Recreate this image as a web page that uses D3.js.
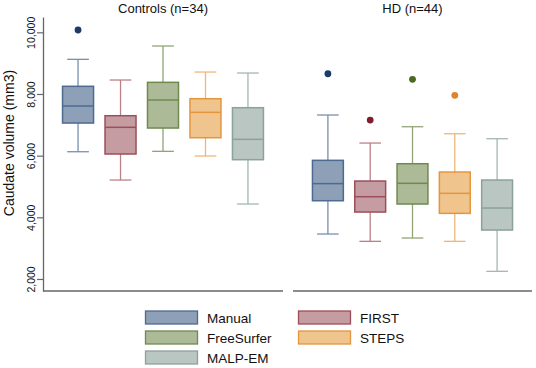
<!DOCTYPE html>
<html lang="en">
<head>
    <meta charset="UTF-8">
    <title>Caudate volume</title>
    <script src="https://cdn.jsdelivr.net/npm/d3@7/dist/d3.min.js"></script>
    <style>
        body { margin: 0; background: #fff; }
        text { font-family: "Liberation Sans", Arial, Helvetica, sans-serif; fill: #111; }
    </style>
</head>
<body>
    <div class="box-container"></div>
</body>
<script>
    const methods = ['Manual', 'FIRST', 'FreeSurfer', 'STEPS', 'MALP-EM']
    const groups = ['Controls (n=34)', 'HD (n=44)']
    const yTicks = [2000, 4000, 6000, 8000, 10000]

    // controls
    const ctrlLow = [6127, 5209, 6140, 5988, 4431]
    const ctrlQ1 = [7058, 6053, 6896, 6581, 5868]
    const ctrlMed = [7610, 6919, 7804, 7405, 6529]
    const ctrlQ3 = [8249, 7295, 8378, 7846, 7555]
    const ctrlHigh = [9124, 8453, 9556, 8712, 8680]
    const ctrlOut = [[10075], [], [], [], []]

    // HD
    const hdLow = [3458, 3221, 3328, 3221, 2248]
    const hdQ1 = [4538, 4171, 4431, 4128, 3587]
    const hdMed = [5093, 4668, 5102, 4778, 4301]
    const hdQ3 = [5848, 5177, 5738, 5469, 5209]
    const hdHigh = [7318, 6409, 6938, 6711, 6549]
    const hdOut = [[8657], [7155], [8476], [7957], []]

    const fills = ['#8ea0b7', '#c59ca1', '#adba98', '#efc48d', '#b9c6c1']
    const strokes = ['#4d6a8f', '#9c4f5a', '#6f8a4f', '#e4963f', '#8ca19a']
    const whiskerColors = ['#7a90ac', '#bd8088', '#91a476', '#f0b679', '#a5b7b1']
    const dotColors = ['#1c3b68', '#7f1f2c', '#4a6a22', '#e0842c', '#7d948d']

    const width = 536
    const height = 368

    const svg = d3.select('.box-container')
        .append('svg')
        .attr('width', width)
        .attr('height', height)

    const y = d3.scaleLinear().domain([1610, 10497]).range([291, 17])

    const panels = [
        { title: groups[0], x0: 43, x1: 283, low: ctrlLow, q1: ctrlQ1, med: ctrlMed, q3: ctrlQ3, high: ctrlHigh, out: ctrlOut },
        { title: groups[1], x0: 293, x1: 532, low: hdLow, q1: hdQ1, med: hdMed, q3: hdQ3, high: hdHigh, out: hdOut }
    ]

    // y axis
    const yAxis = svg.append('g')
        .attr('transform', 'translate(43,0)')
        .call(d3.axisLeft(y).tickValues(yTicks).tickFormat(d3.format(',')).tickSize(6).tickSizeOuter(0))
    yAxis.select('.domain').attr('stroke', '#666').attr('stroke-width', 1.3)
    yAxis.selectAll('.tick line').attr('stroke', '#666').attr('stroke-width', 1.2)
    yAxis.selectAll('.tick text')
        .attr('transform', 'rotate(-90)')
        .attr('x', 0)
        .attr('y', -8)
        .attr('dy', 0)
        .attr('text-anchor', 'middle')
        .style('font-size', '10.5px')
        .style('font-family', '"Liberation Sans", Arial, sans-serif')
        .attr('fill', '#222')

    svg.append('text')
        .attr('transform', 'translate(14,143) rotate(-90)')
        .attr('text-anchor', 'middle')
        .style('font-size', '14px')
        .text('Caudate volume (mm3)')

    panels.forEach(p => {
        const x = d3.scaleBand().domain(methods).range([p.x0, p.x1])
            .paddingInner(0.27).paddingOuter(0.46)
        const bw = x.bandwidth()
        const g = svg.append('g')

        g.append('line')
            .attr('x1', p.x0).attr('x2', p.x1)
            .attr('y1', 291).attr('y2', 291)
            .attr('stroke', '#666').attr('stroke-width', 1.5)

        g.append('text')
            .attr('x', (p.x0 + p.x1) / 2)
            .attr('y', 13)
            .attr('text-anchor', 'middle')
            .style('font-size', '13px')
            .text(p.title)

        methods.forEach((m, i) => {
            const cx = x(m) + bw / 2
            // whiskers
            g.append('line')
                .attr('x1', cx).attr('x2', cx)
                .attr('y1', y(p.high[i])).attr('y2', y(p.q3[i]))
                .attr('stroke', whiskerColors[i]).attr('stroke-width', 1.3)
            g.append('line')
                .attr('x1', cx).attr('x2', cx)
                .attr('y1', y(p.q1[i])).attr('y2', y(p.low[i]))
                .attr('stroke', whiskerColors[i]).attr('stroke-width', 1.3)
            ;[p.high[i], p.low[i]].forEach(v => {
                g.append('line')
                    .attr('x1', cx - bw * 0.35).attr('x2', cx + bw * 0.35)
                    .attr('y1', y(v)).attr('y2', y(v))
                    .attr('stroke', whiskerColors[i]).attr('stroke-width', 1.3)
            })
            // box
            g.append('rect')
                .attr('x', x(m))
                .attr('y', y(p.q3[i]))
                .attr('width', bw)
                .attr('height', y(p.q1[i]) - y(p.q3[i]))
                .attr('fill', fills[i])
                .attr('stroke', strokes[i])
                .attr('stroke-width', 1.5)
            g.append('line')
                .attr('x1', x(m)).attr('x2', x(m) + bw)
                .attr('y1', y(p.med[i])).attr('y2', y(p.med[i]))
                .attr('stroke', strokes[i]).attr('stroke-width', 1.5)
            // outliers
            g.selectAll(null)
                .data(p.out[i])
                .enter()
                .append('circle')
                .attr('cx', cx)
                .attr('cy', d => y(d))
                .attr('r', 3.4)
                .attr('fill', dotColors[i])
        })
    })

    // legend
    const legendPos = [[145, 311], [298, 311], [145, 331], [298, 331], [145, 351]]
    const legendOrder = ['Manual', 'FIRST', 'FreeSurfer', 'STEPS', 'MALP-EM']
    const legend = svg.append('g')
    legendOrder.forEach((m, k) => {
        const i = methods.indexOf(m)
        const [lx, ly] = legendPos[k]
        legend.append('rect')
            .attr('x', lx + 0.5).attr('y', ly)
            .attr('width', 52).attr('height', 13)
            .attr('fill', fills[i])
            .attr('stroke', strokes[i])
            .attr('stroke-width', 1.3)
        legend.append('text')
            .attr('x', lx + 62)
            .attr('y', ly + 11.5)
            .style('font-size', '13.5px')
            .text(m)
    })
</script>
</html>
